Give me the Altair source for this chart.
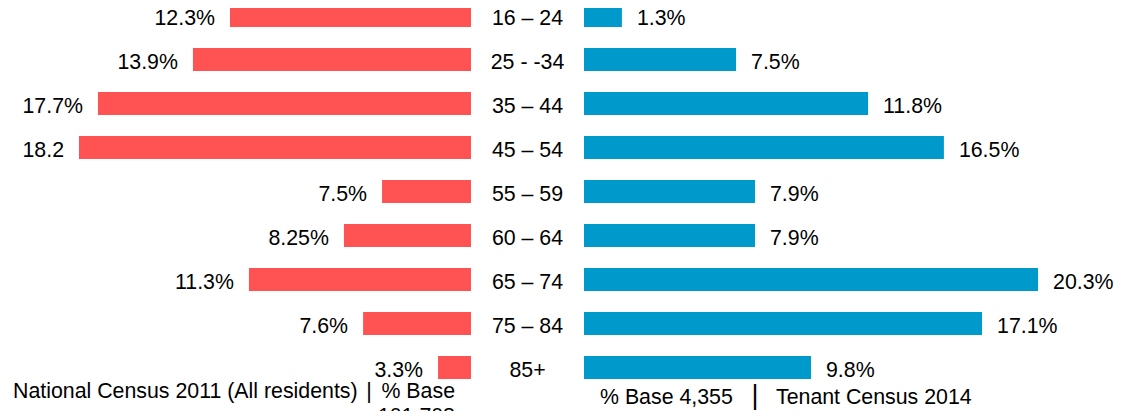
import altair as alt
import pandas as pd

# ---- data ----
ages = ["16 – 24", "25 - -34", "35 – 44", "45 – 54", "55 – 59",
        "60 – 64", "65 – 74", "75 – 84", "85+"]
national_labels = ["12.3%", "13.9%", "17.7%", "18.2", "7.5%",
                   "8.25%", "11.3%", "7.6%", "3.3%"]
national_bars = [11.19, 12.91, 17.32, 18.2, 4.13, 5.90, 10.31, 5.01, 1.53]
tenant_labels = ["1.3%", "7.5%", "11.8%", "16.5%", "7.9%",
                 "7.9%", "20.3%", "17.1%", "9.8%"]
tenant_bars = [1.76, 7.06, 13.19, 16.71, 7.94, 7.94, 21.08, 18.48, 10.54]

left_caption = "National Census 2011 (All residents)"
left_base = ["% Base", "101,708"]
right_base = "% Base 4,355"
right_caption = "Tenant Census 2014"

# ---- layout constants ----
W, H = 1108, 403
PX_PER_UNIT = 21.538
LEFT_ZERO_PX = 463
GAP_PX = 113
GAP = GAP_PX / PX_PER_UNIT
XMIN = -LEFT_ZERO_PX / PX_PER_UNIT
XMAX = (W - LEFT_ZERO_PX) / PX_PER_UNIT
STEP = 44.0
FIRST_CENTER = 7.5
Y0 = -FIRST_CENTER / STEP
Y1 = Y0 + H / STEP
HALF = 11.5 / STEP

RED = "#FF5252"
BLUE = "#0099CC"
FONT = "Liberation Sans"
FS = 21.33

df = pd.DataFrame({
    "row": list(range(len(ages))),
    "age": ages,
    "nlab": national_labels,
    "nval": national_bars,
    "tlab": tenant_labels,
    "tval": tenant_bars,
})

xs = alt.Scale(domain=[XMIN, XMAX], nice=False, zero=False)
ys = alt.Scale(domain=[Y0, Y1], nice=False, zero=False, reverse=True)

base = alt.Chart(df).transform_calculate(
    nx0="-datum.nval",
    nx1="0",
    tx0=f"{GAP}",
    tx1=f"{GAP} + datum.tval",
    mid=f"{GAP / 2}",
    y0=f"datum.row - {HALF}",
    y1=f"datum.row + {HALF}",
)

left_bars = base.mark_rect(color=RED).encode(
    x=alt.X("nx0:Q", scale=xs, axis=None),
    x2="nx1:Q",
    y=alt.Y("y0:Q", scale=ys, axis=None),
    y2="y1:Q",
)
right_bars = base.mark_rect(color=BLUE).encode(
    x=alt.X("tx0:Q", scale=xs, axis=None),
    x2="tx1:Q",
    y=alt.Y("y0:Q", scale=ys, axis=None),
    y2="y1:Q",
)
txt = dict(font=FONT, fontSize=FS, color="#000000", baseline="alphabetic", dy=9.5)
left_text = base.mark_text(align="right", dx=-15, **txt).encode(
    x=alt.X("nx0:Q", scale=xs, axis=None),
    y=alt.Y("row:Q", scale=ys, axis=None),
    text="nlab:N",
)
right_text = base.mark_text(align="left", dx=15, **txt).encode(
    x=alt.X("tx1:Q", scale=xs, axis=None),
    y=alt.Y("row:Q", scale=ys, axis=None),
    text="tlab:N",
)
age_text = base.mark_text(align="center", **txt).encode(
    x=alt.X("mid:Q", scale=xs, axis=None),
    y=alt.Y("row:Q", scale=ys, axis=None),
    text="age:N",
)

one = pd.DataFrame({"k": [0]})
ann = dict(font=FONT, fontSize=FS, color="#000000", baseline="alphabetic")
a1 = alt.Chart(one).mark_text(align="left", text=left_caption, **ann).encode(
    x=alt.value(5), y=alt.value(390))
a2 = alt.Chart(one).mark_text(align="center", text="|", **ann).encode(
    x=alt.value(361), y=alt.value(390))
a3 = alt.Chart(one).mark_text(align="right", text=left_base, lineHeight=25, **ann).encode(
    x=alt.value(447), y=alt.value(390))
a4 = alt.Chart(one).mark_text(align="left", text=right_base, **ann).encode(
    x=alt.value(592), y=alt.value(396))
a5 = alt.Chart(one).mark_text(align="center", text="|", font=FONT, fontSize=27,
                              color="#000000", baseline="alphabetic").encode(
    x=alt.value(747), y=alt.value(396))
a6 = alt.Chart(one).mark_text(align="left", text=right_caption, **ann).encode(
    x=alt.value(768), y=alt.value(396))

chart = alt.layer(
    left_bars, right_bars, left_text, right_text, age_text, a1, a2, a3, a4, a5, a6
).properties(
    width=W, height=H, padding=0,
    autosize=alt.AutoSizeParams(type="none"),
    background="white",
).configure_view(stroke=None)

chart.save("out.html", embed_options={"renderer": "svg", "actions": False})
